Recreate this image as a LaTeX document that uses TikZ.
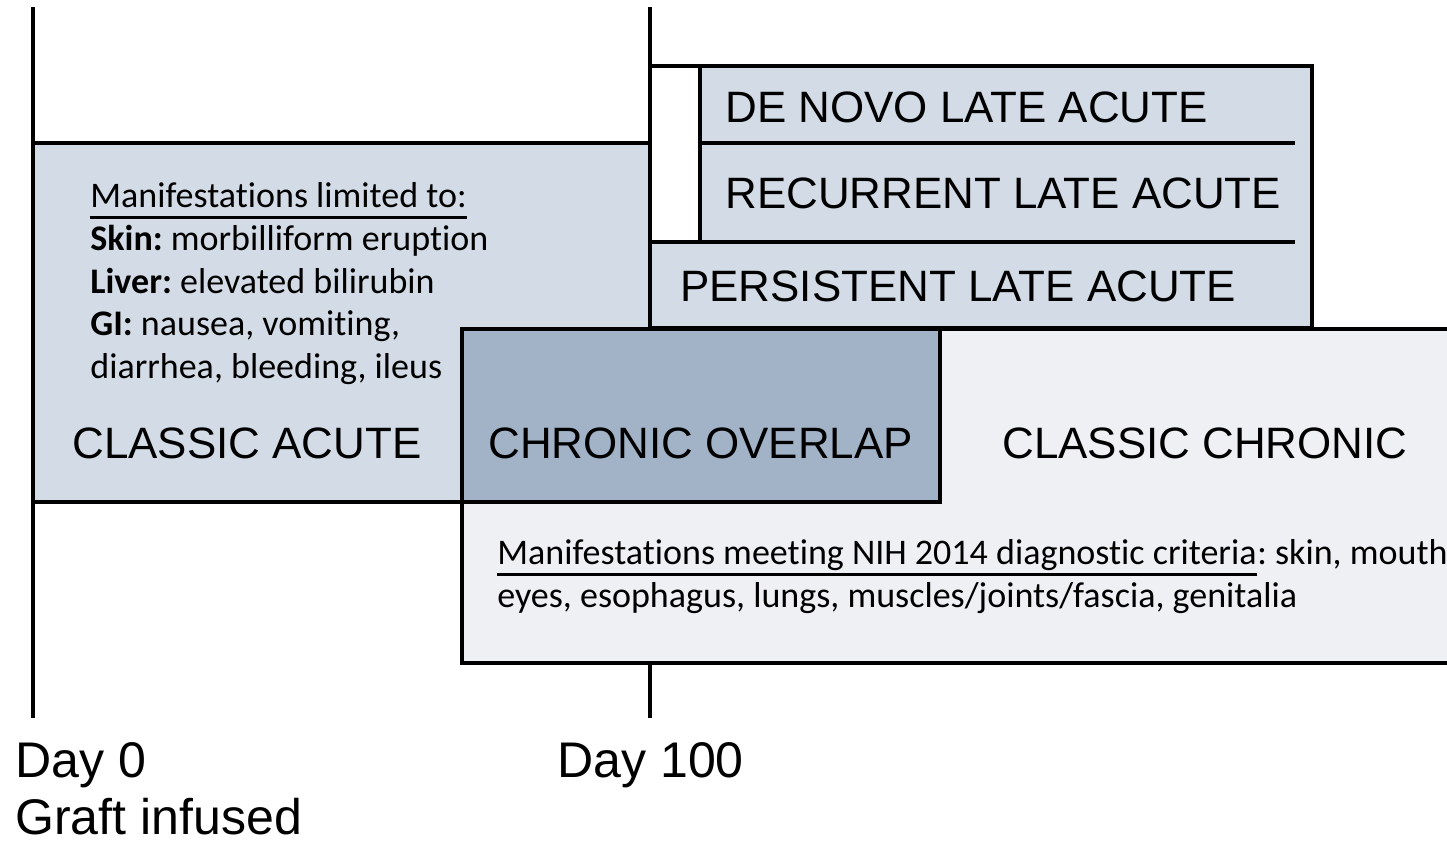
\documentclass[tikz,border=0pt]{standalone}
\usepackage{fontspec}
\setmainfont{Liberation Sans}
\newfontfamily\calfont[Ligatures=NoCommon]{Carlito}
\usepackage{tikz}
\usetikzlibrary{calc}
\usetikzlibrary{positioning}

\definecolor{acutefill}{HTML}{D3DCE6}
\definecolor{overlapfill}{HTML}{A2B3C8}
\definecolor{chronicfill}{HTML}{EEF0F4}

\frenchspacing

\begin{document}
\begin{tikzpicture}[x=0.02cm,y=-0.02cm,
        edge/.style={line width=2.3pt},
        caps/.style={inner sep=0pt,anchor=west,font=\fontsize{25}{30}\selectfont},
        daylbl/.style={inner sep=0pt,anchor=base west,font=\fontsize{28.5}{34}\selectfont},
        note/.style={inner sep=0pt,anchor=base west,font=\calfont\fontsize{20.5}{25}\selectfont},
        uline/.style={line width=1.3pt}]
            \useasboundingbox (0,0) rectangle (1447,845);
            \clip (0,0) rectangle (1447,845);

            \coordinate (d0top) at (33,7);
            \coordinate (d0bot) at (33,718);
            \coordinate (d100top) at (650,7);
            \coordinate (d100bot) at (650,718);

            \coordinate (acuteNW) at (33,143);
            \coordinate (acuteSE) at (650,502);
            \coordinate (lateNW) at (650,66);
            \coordinate (lateSE) at (1312,328);
            \coordinate (novoNW) at (700,66);
            \coordinate (recurSW) at (700,242);
            \coordinate (splitA) at (700,143);
            \coordinate (splitAend) at (1295,143);
            \coordinate (splitB) at (650,242);
            \coordinate (splitBend) at (1295,242);
            \coordinate (chronNW) at (462,329);
            \coordinate (chronSE) at (1470,663);
            \coordinate (overSE) at (940,502);

            \draw[edge] (d0top)--(d0bot);
            \draw[edge] (d100top)--(d100bot);

            \fill[acutefill] (acuteNW) rectangle (acuteSE);
            \draw[edge] (acuteNW) rectangle (acuteSE);

            \fill[white] (lateNW) rectangle (lateSE);
            \fill[acutefill] (novoNW) rectangle (lateSE);
            \fill[acutefill] (splitB) rectangle (lateSE);
            \draw[edge] (lateNW) rectangle (lateSE);
            \draw[edge] (novoNW)--(recurSW);
            \draw[edge] (splitA)--(splitAend);
            \draw[edge] (splitB)--(splitBend);

            \fill[chronicfill] (chronNW) rectangle (chronSE);
            \draw[edge] (chronNW) rectangle (chronSE);
            \fill[overlapfill] (chronNW) rectangle (overSE);
            \draw[edge] (chronNW) rectangle (overSE);

            \node[caps] (novo) at (725,107) {DE NOVO LATE ACUTE};
            \node[caps] (recur) at (725,193) {RECURRENT LATE ACUTE};
            \node[caps] (persist) at (680,286) {PERSISTENT LATE ACUTE};
            \node[caps] (classacute) at (72,443) {CLASSIC ACUTE};
            \node[caps] (overlap) at (488,443) {CHRONIC OVERLAP};
            \node[caps] (classchron) at (1002,443) {CLASSIC CHRONIC};

            \node[note] (acutehead) at (90,207) {Manifestations limited to:};
            \draw[uline] ([yshift=-6pt]acutehead.base west)--([yshift=-6pt]acutehead.base east);
            \node[note] (skin) at (90,250) {\textbf{Skin:} morbilliform eruption};
            \node[note] (liver) at (90,293) {\textbf{Liver:} elevated bilirubin};
            \node[note] (gi) at (90,335) {\textbf{GI:} nausea, vomiting,};
            \node[note] (gimore) at (90,378) {diarrhea, bleeding, ileus};

            \node[note] (nihhead) at (497,564) {Manifestations meeting NIH 2014 diagnostic criteria};
            \draw[uline] ([yshift=-6pt]nihhead.base west)--([yshift=-6pt]nihhead.base east);
            \node[note] (nihrest) at (nihhead.base east) {: skin, mouth};
            \node[note] (nihlist) at (497,607) {eyes, esophagus, lungs, muscles/joints/fascia, genitalia};

            \node[daylbl] (day0) at (15,777) {Day 0};
            \node[daylbl] (graft) at (15,834) {Graft infused};
            \node[daylbl] (day100) at (557,777) {Day 100};
        \end{tikzpicture}
\end{document}
